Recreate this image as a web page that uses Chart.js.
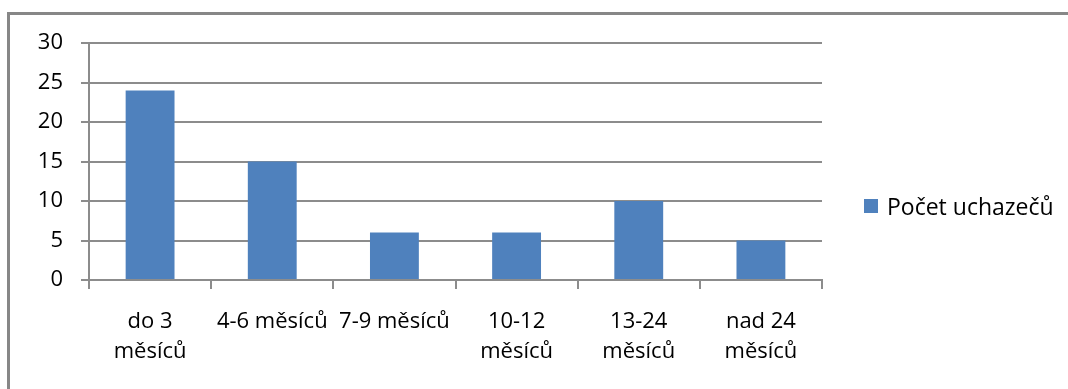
<!DOCTYPE html>
<html>
<head>
<meta charset="utf-8">
<script src="https://cdn.jsdelivr.net/npm/chart.js@4"></script>
<style>
  html, body { margin: 0; padding: 0; background: #fff; }
  body { width: 1068px; height: 389px; position: relative; overflow: hidden; font-family: "Open Sans", sans-serif; }
  #frame { position: absolute; left: 7px; top: 12px; width: 1100px; height: 420px;
           border-left: 3px solid #878787; border-top: 3px solid #878787; }
  #chart { position: absolute; left: 0; top: 0; }
  #legend { position: absolute; left: 864px; top: 191px; height: 30px; display: flex; align-items: center;
            font-size: 23px; color: #000; }
  #legend .box { width: 14px; height: 14px; margin-right: 9px; }
</style>
</head>
<body>
<div id="frame"></div>
<canvas id="chart" width="1068" height="389"></canvas>
<div id="legend"></div>
<script>
/* global document, Chart */
// data
const categories = [['do 3', 'měsíců'], '4-6 měsíců', '7-9 měsíců', ['10-12', 'měsíců'], ['13-24', 'měsíců'], ['nad 24', 'měsíců']];
const seriesLabel = 'Počet uchazečů';
const seriesValues = [24, 15, 6, 6, 10, 5];
const yTicks = [0, 5, 10, 15, 20, 25, 30];

const barColor = '#4F81BD';
const lineColor = '#8c8c8c';
const fontFamily = '"Open Sans", sans-serif';

// legend as html, built from dataset label
const legend = document.getElementById('legend');
const box = document.createElement('span');
box.className = 'box';
box.style.background = barColor;
const txt = document.createElement('span');
txt.textContent = seriesLabel;
legend.appendChild(box);
legend.appendChild(txt);

new Chart(document.getElementById('chart').getContext('2d'), {
  type: 'bar',
  data: {
    labels: categories,
    datasets: [{
      label: seriesLabel,
      data: seriesValues,
      backgroundColor: barColor,
      borderWidth: 0,
      barPercentage: 0.4,
      categoryPercentage: 1.0,
    }],
  },
  options: {
    responsive: false,
    animation: false,
    layout: { padding: { left: 0, top: 43, right: 246, bottom: 0 } },
    plugins: { legend: { display: false }, tooltip: { enabled: false } },
    scales: {
      x: {
        grid: { offset: true, drawOnChartArea: false, drawTicks: true, tickLength: 9, color: lineColor, lineWidth: 2 },
        border: { color: lineColor, width: 2 },
        ticks: { color: '#000', font: { family: fontFamily, size: 22, lineHeight: 1.4 }, padding: 17, maxRotation: 0, autoSkip: false },
        afterFit(s) { s.height = 109; },
      },
      y: {
        min: yTicks[0],
        max: yTicks[yTicks.length - 1],
        afterBuildTicks(s) { s.ticks = yTicks.map(v => ({ value: v })); },
        grid: { tickLength: 8, color: lineColor, lineWidth: 2 },
        border: { color: lineColor, width: 2 },
        ticks: { color: '#000', font: { family: fontFamily, size: 22 }, padding: 18 },
        afterFit(s) { s.width = 89; },
      },
    },
  },
});
</script>
</body>
</html>
